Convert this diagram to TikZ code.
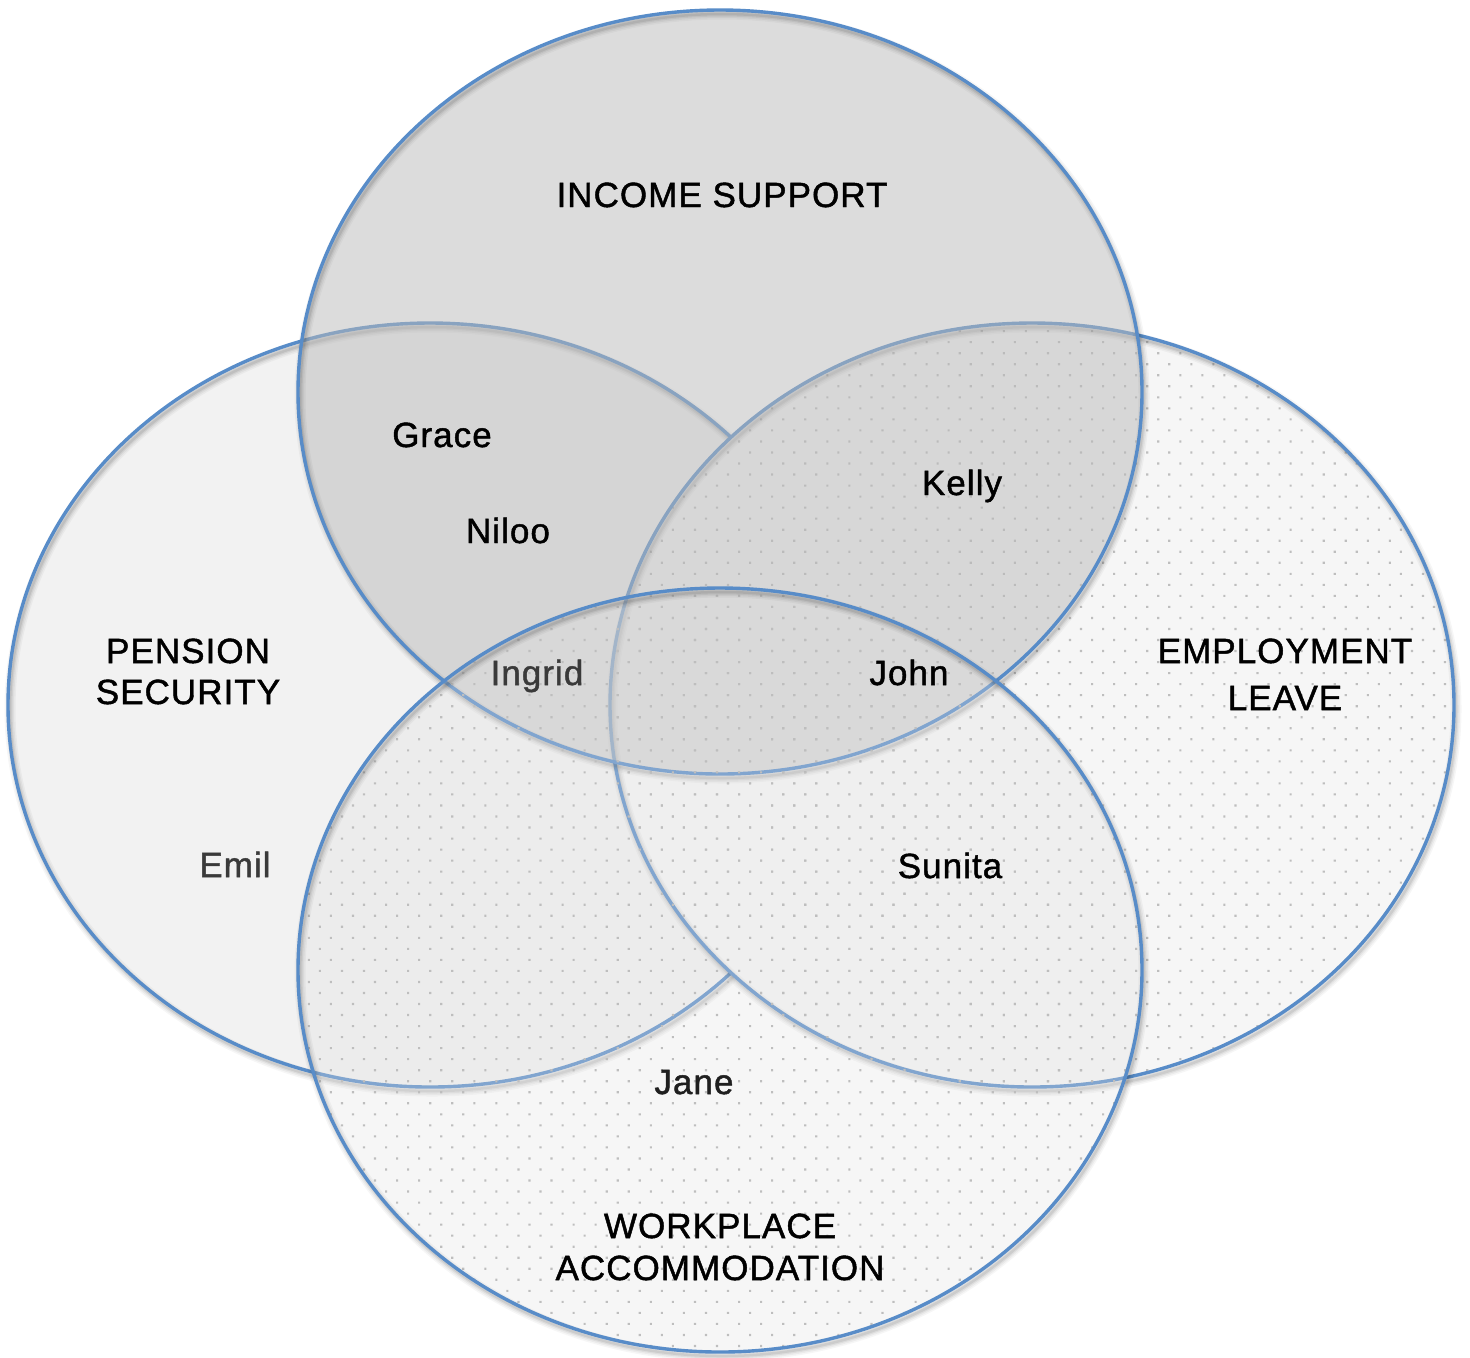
\documentclass[tikz,border=0pt]{standalone}
\usepackage{fontspec}
\setmainfont{Liberation Sans}[LetterSpace=3, FakeBold=1.3]
\usetikzlibrary{patterns.meta}
\definecolor{vline}{RGB}{88,140,200}
\definecolor{lfill}{RGB}{242,242,242}
\definecolor{rfill}{RGB}{246,246,246}
\definecolor{tfill}{RGB}{186,186,186}
\definecolor{bfill}{RGB}{224,224,224}
\definecolor{dotc}{RGB}{190,190,190}
\definecolor{softtext}{RGB}{58,58,58}
\tikzset{
  vring/.style={draw=vline, line width=1.7pt},
  dotfill/.style={pattern={Dots[distance=7.8pt, radius=0.75pt, angle=45]}, pattern color=dotc},
  lbl/.style={font=\fontsize{17.5}{21}\selectfont, text=black, anchor=base, inner sep=0pt},
  softlbl/.style={lbl, text=softtext},
}
\newcommand\ellshadow[2]{%
  \foreach \w/\o in {11/0.035,8/0.045,5/0.06,2.5/0.08}{%
    \draw[line width=\w*0.5pt, draw=black, draw opacity=\o] (#1+2,#2+4) ellipse [x radius=422, y radius=382];}}
\begin{document}
\begin{tikzpicture}[x=0.5pt, y=-0.5pt]
\useasboundingbox (0,0) rectangle (1470,1357);
% left: pension security
\fill[lfill] (430,705) ellipse [x radius=422, y radius=382];
\ellshadow{430}{705}
\draw[vring] (430,705) ellipse [x radius=422, y radius=382];
% right: employment leave
\fill[rfill] (1032,705) ellipse [x radius=422, y radius=382];
\path[dotfill] (1032,705) ellipse [x radius=422, y radius=382];
\ellshadow{1032}{705}
\draw[vring] (1032,705) ellipse [x radius=422, y radius=382];
% top: income support
\fill[tfill, fill opacity=0.5] (720,392) ellipse [x radius=422, y radius=382];
\ellshadow{720}{392}
\draw[vring] (720,392) ellipse [x radius=422, y radius=382];
% bottom: workplace accommodation
\fill[bfill, fill opacity=0.3] (720,970) ellipse [x radius=422, y radius=382];
\path[dotfill] (720,970) ellipse [x radius=422, y radius=382];
\ellshadow{720}{970}
\draw[vring] (720,970) ellipse [x radius=422, y radius=382];
% labels (multi-line nodes are placed at the baseline of their last line)
\node[lbl] (inc) at (722,207) {INCOME SUPPORT};
\node[lbl, align=center, font=\fontsize{17.5}{20.5}\selectfont] (pen) at (188,704) {PENSION\\SECURITY};
\node[lbl, align=center, font=\fontsize{17.5}{23.5}\selectfont] (emp) at (1285,710) {EMPLOYMENT\\LEAVE};
\node[lbl, align=center, font=\fontsize{17.5}{21}\selectfont] (wrk) at (720,1280) {WORKPLACE\\ACCOMMODATION};
\node[lbl] (grace) at (442,447) {Grace};
\node[lbl] (niloo) at (508,543) {Niloo};
\node[lbl] (kelly) at (962,495) {Kelly};
\node[softlbl] (ingrid) at (537,685) {Ingrid};
\node[lbl] (john) at (909,685) {John};
\node[softlbl] (emil) at (235,877) {Emil};
\node[lbl] (sunita) at (950,878) {Sunita};
\node[lbl, text=black!88] (jane) at (694,1094) {Jane};
\end{tikzpicture}
\end{document}
